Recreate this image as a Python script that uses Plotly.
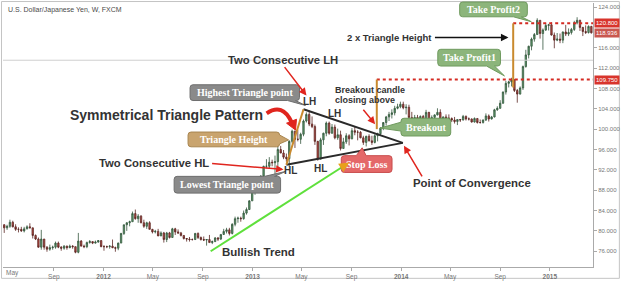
import plotly.graph_objects as go
import pandas as pd

# ---------------- data: weekly USD/JPY (FXCM) ----------------
first_open = 81.2
close_2011 = [80.6, 80.9, 81.7, 80.8, 80.3, 80.3, 80.0, 80.4, 80.8, 80.6, 79.1, 78.4, 76.8, 78.4, 76.8, 76.4, 76.7, 76.8,
              77.6, 76.8, 76.6, 77.0, 76.7, 77.0, 76.9, 75.8, 78.0, 77.0, 76.9, 77.7, 77.9, 77.6, 77.8, 78.1, 76.9]
high_2011 = [81.3, 81.2, 82.2, 82.0, 81.3, 80.7, 80.8, 80.8, 81.1, 81.5, 80.6, 79.3, 78.7, 80.2, 78.4, 77.0, 77.3, 77.1,
             77.9, 77.9, 77.0, 77.2, 77.1, 77.3, 77.2, 76.9, 79.6, 78.2, 77.3, 77.9, 78.2, 77.9, 78.1, 78.2, 78.1]
low_2011 = [79.6, 80.2, 80.6, 80.7, 80.0, 79.7, 79.8, 79.7, 80.3, 80.5, 78.5, 78.2, 76.7, 76.3, 76.3, 75.9, 76.1, 76.3,
            76.5, 76.6, 76.1, 76.3, 76.3, 76.6, 76.5, 75.6, 75.6, 77.0, 76.6, 76.6, 77.5, 77.4, 77.5, 77.7, 76.8]

close_2012 = [76.9, 76.9, 77.0, 76.7, 76.6, 77.6, 79.5, 81.2, 81.6, 81.8, 83.4, 82.4, 82.9, 81.6, 80.9, 81.6, 80.3, 79.8,
              79.9, 79.0, 79.6, 78.3, 79.6, 78.7, 80.4, 79.8, 79.6, 79.1, 78.5, 78.4, 78.3, 78.3, 79.5, 78.7, 78.3, 78.2,
              78.3, 77.7, 77.9, 78.6, 78.4, 79.3, 79.9, 80.2, 79.5, 81.3, 82.4, 82.5, 82.4, 83.5, 84.2, 85.9, 88.2]
high_2012 = [77.2, 77.1, 77.2, 78.3, 76.9, 77.7, 79.6, 81.2, 81.7, 82.0, 83.8, 84.2, 83.3, 83.1, 82.2, 81.8, 81.9, 80.4,
             80.2, 80.4, 79.9, 79.8, 79.8, 79.8, 80.6, 80.6, 80.3, 79.8, 79.1, 78.6, 78.8, 78.5, 79.6, 79.7, 78.9, 78.9,
             78.4, 79.2, 78.1, 78.8, 78.8, 79.3, 80.4, 80.6, 80.6, 81.5, 82.8, 82.8, 82.8, 84.0, 84.6, 86.0, 88.4]
low_2012 = [76.1, 76.6, 76.5, 76.6, 75.9, 76.2, 77.6, 79.2, 80.0, 80.9, 81.8, 82.2, 81.6, 81.5, 80.6, 80.4, 80.3, 79.5,
            79.5, 79.0, 79.0, 77.7, 77.8, 78.5, 78.7, 79.2, 79.4, 78.9, 78.3, 77.9, 77.9, 78.1, 78.2, 78.4, 78.1, 78.0,
            77.1, 77.7, 77.4, 77.8, 78.0, 78.2, 79.2, 79.5, 79.1, 79.3, 80.9, 81.6, 81.8, 82.2, 83.2, 84.1, 85.9]

close_2013 = [89.2, 90.1, 90.8, 92.7, 92.7, 93.5, 93.4, 93.6, 96.0, 95.3, 94.5, 94.2, 97.6, 99.6, 98.0, 98.0, 99.0,
              101.6, 102.9, 101.0, 100.5, 97.6, 94.1, 97.9, 99.2, 101.2, 99.2, 100.4, 98.3, 98.9, 96.2, 97.5, 98.7,
              98.1, 99.7, 99.4, 99.4, 98.3, 97.4, 98.6, 97.7, 97.4, 98.7, 99.1, 100.2, 101.3, 102.4, 102.9, 103.2,
              104.1, 104.4, 104.9]
high_2013 = [89.4, 90.2, 90.9, 92.8, 94.1, 94.5, 94.0, 94.8, 96.7, 96.7, 95.9, 95.2, 97.8, 99.9, 99.7, 99.9, 99.3,
             101.9, 103.3, 103.7, 102.5, 100.9, 97.7, 98.3, 99.3, 101.5, 101.5, 101.0, 100.9, 100.1, 99.7, 98.3, 99.2,
             99.0, 100.2, 100.6, 99.8, 99.6, 98.7, 98.7, 99.0, 98.7, 99.0, 99.3, 100.4, 101.4, 102.6, 103.4, 103.9,
             104.6, 105.0, 105.4]
low_2013 = [87.1, 88.5, 88.1, 90.5, 92.3, 92.2, 92.7, 90.9, 92.6, 95.3, 94.1, 93.6, 92.6, 97.2, 96.3, 97.6, 97.1,
            98.6, 101.3, 100.6, 100.2, 96.9, 93.8, 94.1, 96.9, 98.6, 98.9, 99.1, 98.0, 97.9, 95.8, 96.2, 97.1,
            96.8, 98.0, 98.8, 97.8, 98.2, 96.9, 96.6, 97.6, 96.9, 97.2, 97.6, 98.8, 99.8, 100.7, 101.6, 102.1,
            102.7, 103.9, 104.1]

close_2014 = [104.2, 104.3, 102.3, 102.0, 102.3, 101.8, 102.5, 101.8, 103.3, 101.3, 102.3, 102.8, 103.3, 101.6,
              102.4, 102.2, 102.1, 101.8, 101.5, 101.9, 101.8, 102.5, 102.0, 102.0, 101.4, 102.1, 101.3, 101.3,
              101.8, 102.6, 102.0, 102.4, 103.8, 104.1, 105.1, 107.3, 109.0, 109.3, 109.7, 107.6, 106.9, 108.1,
              112.3, 114.6, 116.3, 117.7, 118.6, 121.4, 118.8, 119.5, 120.4, 120.5]
high_2014 = [105.4, 104.9, 104.8, 103.4, 102.8, 102.8, 102.7, 102.8, 103.8, 103.4, 102.7, 102.9, 104.1, 103.9,
             102.5, 102.9, 102.9, 102.3, 102.4, 101.9, 102.0, 102.8, 102.7, 102.3, 102.1, 102.3, 102.1, 101.9,
             101.9, 103.1, 102.9, 102.6, 104.0, 104.5, 105.7, 107.4, 109.5, 109.5, 110.1, 109.8, 107.9, 108.4,
             112.5, 115.6, 116.4, 118.0, 118.9, 121.8, 121.4, 119.8, 120.8, 120.7]
low_2014 = [103.9, 102.9, 102.0, 101.8, 100.8, 101.4, 101.3, 101.2, 101.2, 101.2, 101.1, 101.7, 102.7, 101.3,
            101.4, 101.9, 101.9, 101.4, 101.1, 100.8, 101.4, 101.7, 101.7, 101.7, 101.3, 101.3, 101.1, 101.1,
            101.1, 101.6, 101.5, 101.9, 102.3, 103.6, 104.0, 105.0, 106.8, 108.2, 108.4, 107.3, 105.2, 106.8,
            107.7, 112.1, 113.9, 115.5, 117.2, 118.6, 117.8, 115.6, 119.3, 119.4]

close_2015 = [118.5, 117.5, 117.7, 117.5, 119.1, 118.7, 119.0, 119.6, 120.9, 121.4, 120.0, 119.2, 119.0, 120.2, 118.936]
high_2015 = [121.0, 119.0, 118.9, 118.8, 119.2, 120.5, 119.8, 119.9, 121.3, 122.0, 121.5, 120.1, 120.4, 120.4, 120.3]
low_2015 = [118.4, 115.9, 117.3, 116.9, 116.9, 118.3, 118.3, 118.6, 119.3, 120.6, 119.3, 118.3, 118.7, 118.8, 118.8]

first_week = "2011-05-02"

# y-axis ticks and x-axis tick labels
y_ticks = [76, 80, 84, 88, 92, 96, 100, 104, 108, 112, 116, 124]
x_tick_dates = ["2011-09-01", "2012-01-01", "2012-05-01", "2012-09-01", "2013-01-01",
                "2013-05-01", "2013-09-01", "2014-01-01", "2014-05-01", "2014-09-01", "2015-01-01"]
x_tick_text = ["Sep", "<b>2012</b>", "May", "Sep", "<b>2013</b>", "May", "Sep", "<b>2014</b>",
               "May", "Sep", "<b>2015</b>"]
first_month_label = "May"

# analysis drawing anchors (date, price)
tri_hl = ("2013-03-25", 93.0)
tri_lh = ("2013-05-06", 103.9)
tri_apex = ("2014-01-05", 97.3)
breakout_date, breakout_base = "2013-11-02", 100.0
tp1_level = 109.75
tp2_date, tp2_base = "2014-10-03", 108.2
tp2_level = 120.8
last_price = 118.936
trend_start = ("2012-09-20", 76.0)
trend_end = ("2013-08-15", 92.85)
crosshair_level = 113.55

x_range = ["2011-04-29", "2015-04-17"]
y_range = [72.9, 124.8]

# ---------------- build ----------------
closes = close_2011 + close_2012 + close_2013 + close_2014 + close_2015
highs = high_2011 + high_2012 + high_2013 + high_2014 + high_2015
lows = low_2011 + low_2012 + low_2013 + low_2014 + low_2015
opens = [first_open] + closes[:-1]
highs = [max(h, o, c) for h, o, c in zip(highs, opens, closes)]
lows = [min(l, o, c) for l, o, c in zip(lows, opens, closes)]
dates = pd.date_range(first_week, periods=len(closes), freq="7D")

W, H = 624, 284
L, R, T, B = 3, 596, 3, 271


def px(x):
    return (x - L) / (R - L)


def py(y):
    return (B - y) / (B - T)


def P(x, y):
    return f"{px(x):.5f},{py(y):.5f}"


def callout(x0, y0, x1, y1, r, side=None, a=None, b=None, tip=None):
    s = [f"M {P(x0 + r, y0)}"]
    if side == "top":
        s += [f"L {P(a, y0)}", f"L {P(*tip)}", f"L {P(b, y0)}"]
    s.append(f"L {P(x1 - r, y0)}")
    s.append(f"Q {P(x1, y0)} {P(x1, y0 + r)}")
    if side == "right":
        s += [f"L {P(x1, a)}", f"L {P(*tip)}", f"L {P(x1, b)}"]
    s.append(f"L {P(x1, y1 - r)}")
    s.append(f"Q {P(x1, y1)} {P(x1 - r, y1)}")
    if side == "bottom":
        s += [f"L {P(b, y1)}", f"L {P(*tip)}", f"L {P(a, y1)}"]
    s.append(f"L {P(x0 + r, y1)}")
    s.append(f"Q {P(x0, y1)} {P(x0, y1 - r)}")
    if side == "left":
        s += [f"L {P(x0, b)}", f"L {P(*tip)}", f"L {P(x0, a)}"]
    s.append(f"L {P(x0, y0 + r)}")
    s.append(f"Q {P(x0, y0)} {P(x0 + r, y0)}")
    s.append("Z")
    return " ".join(s)


fig = go.Figure(go.Candlestick(
    x=dates, open=opens, high=highs, low=lows, close=closes,
    increasing=dict(fillcolor="#5e9f6c", line=dict(color="#35573d", width=0.8)),
    decreasing=dict(fillcolor="#bd4a42", line=dict(color="#5a2622", width=0.8)),
    whiskerwidth=0, hoverinfo="skip", showlegend=False))

shapes = []
# outer frame
shapes.append(dict(type="rect", xref="paper", yref="paper", x0=px(1.5), x1=px(622.5), y0=py(282.5), y1=py(1.5),
                   line=dict(color="#c4c4c4", width=1), layer="below"))
# crosshair line
shapes.append(dict(type="line", xref="paper", yref="y", x0=0, x1=1, y0=crosshair_level, y1=crosshair_level,
                   line=dict(color="#cfcfcf", width=1)))
# target dotted lines
shapes.append(dict(type="line", xref="x", yref="y", x0=breakout_date, x1=x_range[1], y0=tp1_level, y1=tp1_level,
                   line=dict(color="#d42a22", width=2, dash="dot")))
shapes.append(dict(type="line", xref="x", yref="y", x0=tp2_date, x1=x_range[1], y0=tp2_level, y1=tp2_level,
                   line=dict(color="#d42a22", width=2, dash="dot")))
# triangle
for a_, b_ in [(tri_lh, tri_apex), (tri_hl, tri_apex)]:
    shapes.append(dict(type="line", xref="x", yref="y", x0=a_[0], y0=a_[1], x1=b_[0], y1=b_[1],
                       line=dict(color="#2a2a2a", width=2)))
# orange height lines
orange = "#c98a2e"
shapes.append(dict(type="line", xref="x", yref="y", x0=tri_hl[0], y0=tri_hl[1], x1=tri_lh[0], y1=tri_lh[1],
                   line=dict(color=orange, width=2)))
shapes.append(dict(type="line", xref="x", yref="y", x0=breakout_date, y0=breakout_base, x1=breakout_date,
                   y1=tp1_level, line=dict(color=orange, width=2)))
shapes.append(dict(type="line", xref="x", yref="y", x0=tp2_date, y0=tp2_base, x1=tp2_date,
                   y1=tp2_level, line=dict(color=orange, width=2)))
# bullish trend line
shapes.append(dict(type="line", xref="x", yref="y", x0=trend_start[0], y0=trend_start[1], x1=trend_end[0],
                   y1=trend_end[1], line=dict(color="#5fe03c", width=2)))

# callout boxes
gray_f, gray_l = "#8a8a8a", "#6e6e6e"
green_f, green_l = "#8cb57b", "#6f9a5e"
boxes = [
    (callout(191, 86, 301, 102, 3, "bottom", 289, 297, (307, 107)), gray_f, gray_l),
    (callout(189, 134, 281, 149, 3, "right", 137, 146, (290, 142)), "#c9a46e", "#a8854f"),
    (callout(175, 179, 282, 196, 3, "top", 266, 276, (287, 174)), gray_f, gray_l),
    (callout(403, 120, 453, 138, 3, "left", 124, 133, (382, 130)), green_f, green_l),
    (callout(343, 158, 394, 175, 3, "top", 358, 368, (364, 150)), "#e46868", "#c84c4c"),
    (callout(440, 50, 503, 67, 3, "bottom", 489, 497, (507, 77)), green_f, green_l),
    (callout(462, 2, 530, 17, 3, "bottom", 516, 524, (534, 22)), green_f, green_l),
]
for path, f, l in boxes:
    shapes.append(dict(type="path", xref="paper", yref="paper", path=path, fillcolor=f,
                       line=dict(color=l, width=1)))

# big curved red arrow
red = "#e0251e"
shapes.append(dict(type="path", xref="paper", yref="paper",
                   path=f"M {P(268, 115)} Q {P(284, 104)} {P(293, 124)}",
                   line=dict(color=red, width=4)))
shapes.append(dict(type="path", xref="paper", yref="paper",
                   path=f"M {P(288, 125)} L {P(298, 121)} L {P(297, 132)} Z",
                   fillcolor=red, line=dict(color=red, width=1)))

ann = []


def text(x, y, s, size, color="#333333", bold=True, family="Liberation Sans", xanchor="center"):
    ann.append(dict(xref="paper", yref="paper", x=px(x), y=py(y), text=(f"<b>{s}</b>" if bold else s),
                    showarrow=False, xanchor=xanchor, yanchor="middle",
                    font=dict(size=size, color=color, family=family)))


def arrow(x_head, y_head, x_tail, y_tail, color, width=1.5, head=2):
    ann.append(dict(xref="paper", yref="paper", x=px(x_head), y=py(y_head), ax=x_tail - x_head,
                    ay=y_tail - y_head, axref="pixel", ayref="pixel", text="", showarrow=True,
                    arrowhead=head, arrowsize=1, arrowwidth=width, arrowcolor=color, standoff=0))


text(6, 10, "U.S. Dollar/Japanese Yen, W, FXCM", 7, color="#4a4a4a", bold=False, xanchor="left")
text(284, 61, "Two Consecutive LH", 11.3)
text(167, 117, "Symmetrical Triangle Pattern", 14)
text(155, 165, "Two Consecutive HL", 11.3)
text(311, 103, "LH", 10)
text(336, 115, "LH", 10)
text(292, 173, "HL", 10)
text(322, 171, "HL", 10)
text(335, 91.5, "Breakout candle", 9, xanchor="left")
text(335, 101.5, "closing above", 9, xanchor="left")
text(474, 186, "Point of Convergence", 11.4)
text(260, 256, "Bullish Trend", 11.5)
text(391, 38, "2 x Triangle Height", 9.5)
text(4, 277, first_month_label, 6.5, color="#777777", bold=False, xanchor="left")

serif = "Liberation Serif"
text(246, 94, "Highest Triangle point", 10, color="white", family=serif)
text(235, 141.5, "Triangle Height", 10, color="white", family=serif)
text(228, 187.5, "Lowest Triangle point", 10, color="white", family=serif)
text(428, 129, "Breakout", 10, color="white", family=serif)
text(368.5, 166.5, "Stop Loss", 10, color="white", family=serif)
text(471.5, 58.5, "Take Profit1", 10, color="white", family=serif)
text(496, 9.5, "Take Profit2", 10, color="white", family=serif)

arrow(308, 97, 285, 67, red)
arrow(285, 172, 212, 166, red)
arrow(377, 126, 364, 110, red)
arrow(406, 148, 425, 180, red)
arrow(511, 38, 436, 38, "#111111")
arrow(351, 165, 343, 170, "#e8a01c", width=2)

# right-side price labels
for lvl, bg in [(tp2_level, "#d8342c"), (last_price, "#c9574f"), (tp1_level, "#d8342c")]:
    ann.append(dict(xref="paper", yref="y", x=1.0, y=lvl, xanchor="left", yanchor="middle", xshift=1,
                    text=f"{lvl:.3f}", showarrow=False, bgcolor=bg, borderpad=1,
                    font=dict(size=6, color="white", family="Liberation Sans")))

fig.update_layout(
    width=W, height=H, margin=dict(l=L, r=W - R, t=T, b=H - B),
    paper_bgcolor="white", plot_bgcolor="white",
    font=dict(family="Liberation Sans"),
    shapes=shapes, annotations=ann, showlegend=False,
    xaxis=dict(type="date", range=x_range, rangeslider=dict(visible=False), showgrid=False, zeroline=False,
               tickvals=x_tick_dates, ticktext=x_tick_text, tickfont=dict(size=6.5, color="#777777"),
               ticks="outside", ticklen=3, tickcolor="#aaaaaa", showline=True, linecolor="#aaaaaa",
               linewidth=1),
    yaxis=dict(side="right", range=y_range, showgrid=False, zeroline=False, tickvals=y_ticks,
               ticktext=[f"{v:.3f}" for v in y_ticks], tickfont=dict(size=6, color="#777777"),
               ticks="outside", ticklen=3, tickcolor="#aaaaaa", showline=True, linecolor="#aaaaaa",
               linewidth=1),
)

fig.write_html("out.html")
